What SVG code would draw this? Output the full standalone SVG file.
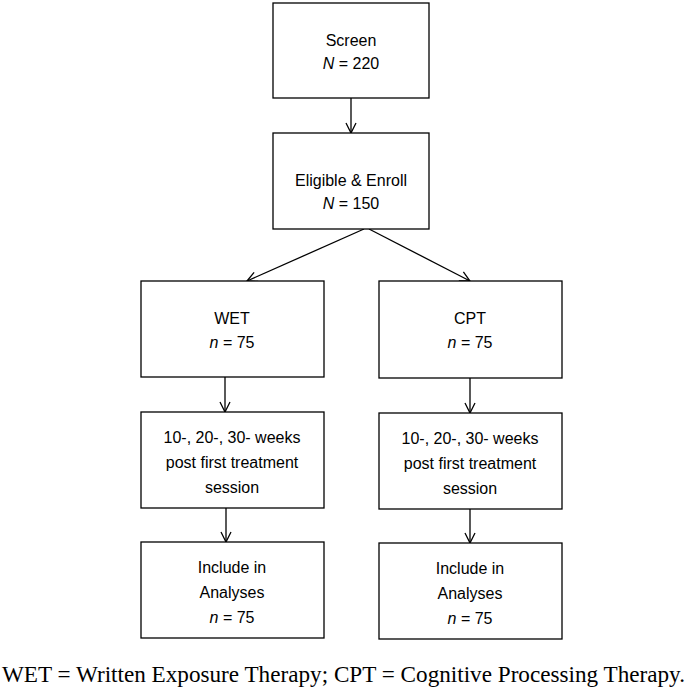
<svg xmlns="http://www.w3.org/2000/svg" width="688" height="690" viewBox="0 0 688 690">
<style>
.box{fill:#fff;stroke:#000;stroke-width:1.3}
.t{font-family:"Liberation Sans",Arial,sans-serif;font-size:16px;fill:#000;text-anchor:middle}
.i{font-style:italic}
.c{stroke:#000;stroke-width:1.3;fill:none;marker-end:url(#ah)}
.f{font-family:"Liberation Serif","Times New Roman",serif;font-size:23px;fill:#000}
</style>
<defs>
<marker id="ah" viewBox="0 0 12 12" refX="11" refY="6" markerWidth="12" markerHeight="12" markerUnits="userSpaceOnUse" orient="auto">
<path d="M1,1 L11,6 L1,11" fill="none" stroke="#000" stroke-width="1.3"/>
</marker>
</defs>
<rect width="688" height="690" fill="#fff"/>
<g id="connectors">
<line class="c" x1="351" y1="98" x2="351" y2="133"/>
<line class="c" x1="364" y1="229" x2="247" y2="281"/>
<line class="c" x1="369" y1="229" x2="470" y2="281"/>
<line class="c" x1="225" y1="377" x2="225" y2="412"/>
<line class="c" x1="470" y1="378" x2="470" y2="413"/>
<line class="c" x1="226" y1="508" x2="226" y2="542"/>
<line class="c" x1="470" y1="509" x2="470" y2="543"/>
</g>
<g id="screen">
<rect class="box" x="273" y="3" width="156" height="95"/>
<text class="t" x="351" y="46">Screen</text>
<text class="t" x="351" y="69"><tspan class="i">N</tspan> = 220</text>
</g>
<g id="enroll">
<rect class="box" x="273" y="133" width="156" height="96"/>
<text class="t" x="351" y="186">Eligible &amp; Enroll</text>
<text class="t" x="351" y="209"><tspan class="i">N</tspan> = 150</text>
</g>
<g id="wet">
<rect class="box" x="141" y="281" width="183" height="96"/>
<text class="t" x="232" y="324">WET</text>
<text class="t" x="232" y="348"><tspan class="i">n</tspan> = 75</text>
</g>
<g id="cpt">
<rect class="box" x="379" y="281" width="183" height="97"/>
<text class="t" x="470" y="324">CPT</text>
<text class="t" x="470" y="348"><tspan class="i">n</tspan> = 75</text>
</g>
<g id="wet-followup">
<rect class="box" x="141" y="412" width="183" height="96"/>
<text class="t" x="232" y="443">10-, 20-, 30- weeks</text>
<text class="t" x="232" y="468">post first treatment</text>
<text class="t" x="232" y="493">session</text>
</g>
<g id="cpt-followup">
<rect class="box" x="379" y="413" width="183" height="96"/>
<text class="t" x="470" y="444">10-, 20-, 30- weeks</text>
<text class="t" x="470" y="469">post first treatment</text>
<text class="t" x="470" y="494">session</text>
</g>
<g id="wet-analyses">
<rect class="box" x="141" y="542" width="183" height="96"/>
<text class="t" x="232" y="573">Include in</text>
<text class="t" x="232" y="598">Analyses</text>
<text class="t" x="232" y="623"><tspan class="i">n</tspan> = 75</text>
</g>
<g id="cpt-analyses">
<rect class="box" x="379" y="543" width="183" height="96"/>
<text class="t" x="470" y="574">Include in</text>
<text class="t" x="470" y="599">Analyses</text>
<text class="t" x="470" y="624"><tspan class="i">n</tspan> = 75</text>
</g>
<text class="f" x="2" y="682" textLength="683" lengthAdjust="spacingAndGlyphs">WET = Written Exposure Therapy; CPT = Cognitive Processing Therapy.</text>
</svg>
